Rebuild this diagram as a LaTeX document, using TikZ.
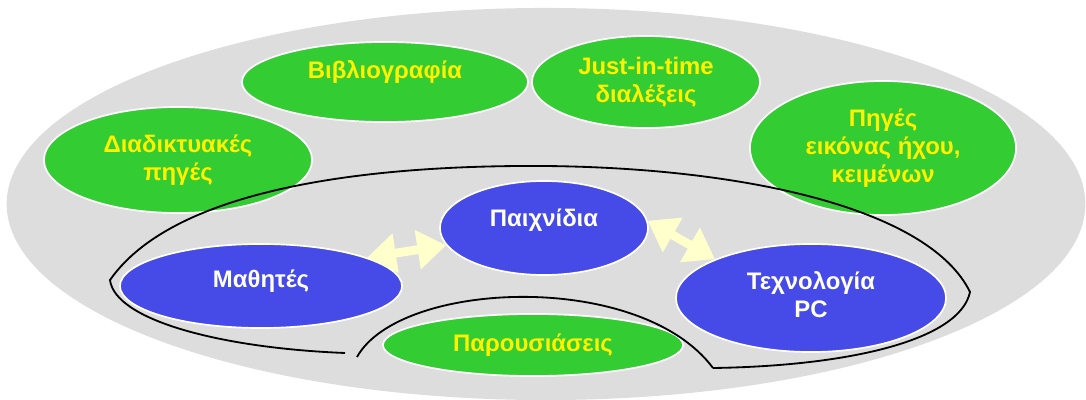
\documentclass[tikz,border=0pt]{standalone}
\usepackage{fontspec}
\setmainfont{Liberation Sans}
\usepackage{tikz}
\usetikzlibrary{arrows.meta,shapes.geometric}

\definecolor{bggray}{RGB}{221,221,221}
\definecolor{ovalgreen}{RGB}{51,204,51}
\definecolor{ovalblue}{RGB}{70,74,230}
\definecolor{paleyellow}{RGB}{255,255,204}

\tikzset{
    oval/.style={shape=ellipse,draw=white,line width=1.2pt,inner sep=0pt,align=center,
        font=\fontsize{17}{20}\selectfont\bfseries},
    greenoval/.style={oval,fill=ovalgreen,text=yellow},
    blueoval/.style={oval,fill=ovalblue,text=white},
    dblarrow/.style={draw=paleyellow,line width=0.22cm,
        {Triangle[length=0.72cm,width=0.95cm]}-{Triangle[length=0.72cm,width=0.95cm]}},
    loopline/.style={draw=black,line width=1.3pt}
}

\begin{document}
\begin{tikzpicture}[x=0.025cm,y=-0.025cm]
    \useasboundingbox (0,0) rectangle (1086,400);
    \fill[bggray] (546,204) ellipse [x radius=13.48cm,y radius=4.9cm];
    \node[greenoval,minimum width=7.15cm,minimum height=2cm] (biblio) at (385,82) {\raisebox{0.6cm}{Βιβλιογραφία}};
    \node[greenoval,minimum width=5.7cm,minimum height=2.3cm] (diale) at (646,82) {Just-in-time\\διαλέξεις};
    \node[greenoval,minimum width=6.7cm,minimum height=2.65cm] (diadikt) at (178,160) {Διαδικτυακές\\πηγές};
    \node[greenoval,minimum width=6.65cm,minimum height=3.35cm] (piges) at (883,148) {Πηγές\\εικόνας ήχου,\\κειμένων};
    \node[blueoval,minimum width=5.2cm,minimum height=2.35cm] (paixn) at (544,228) {\raisebox{0.5cm}{Παιχνίδια}};
    \node[blueoval,minimum width=7.05cm,minimum height=2.1cm] (mathit) at (261,286) {\raisebox{0.35cm}{Μαθητές}};
    \node[blueoval,minimum width=6.75cm,minimum height=2.7cm] (techn) at (811,298) {\raisebox{0.25cm}{\begin{tabular}{@{}c@{}}Τεχνολογία\\PC\end{tabular}}};
    \node[greenoval,minimum width=7.5cm,minimum height=1.55cm] (parous) at (533,345) {Παρουσιάσεις};
    \path (mathit.15) edge[dblarrow] (paixn.190);
    \path (paixn.4) edge[dblarrow] (techn.158);
    \draw[loopline] (345,353) .. controls (220,348) and (115,320) .. (110,280)
        .. controls (180,180) and (400,165) .. (545,166)
        .. controls (750,168) and (930,210) .. (970,292)
        .. controls (960,340) and (850,366) .. (713,368);
    \draw[loopline] (357,357) .. controls (400,280) and (640,270) .. (713,368);
\end{tikzpicture}
\end{document}
